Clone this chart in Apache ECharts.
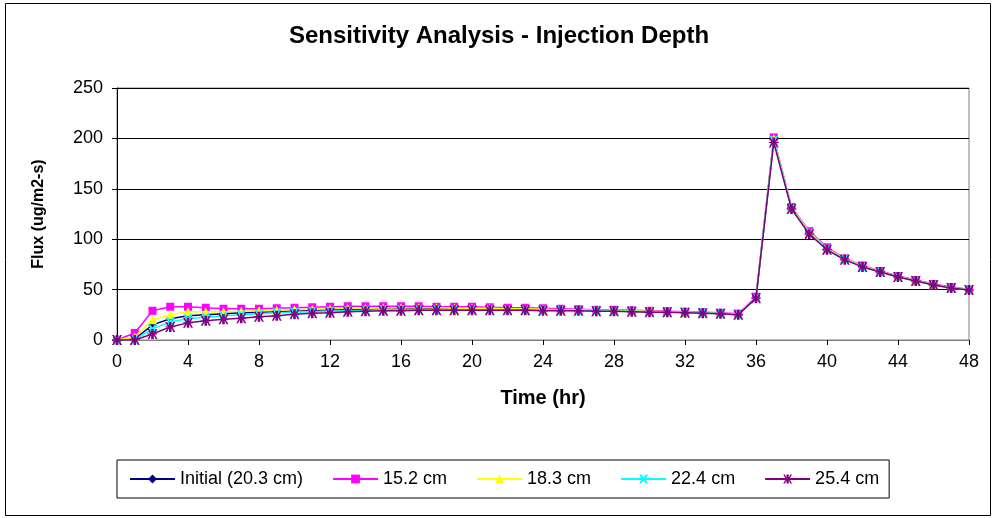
<!DOCTYPE html>
<html>
<head>
<meta charset="utf-8">
<script src="https://cdn.jsdelivr.net/npm/echarts@6/dist/echarts.min.js"></script>
<style>html,body{margin:0;padding:0;background:#fff}#c{width:998px;height:518px}</style>
</head>
<body>
<div id="c"></div>
<script>
const hours = [0,1,2,3,4,5,6,7,8,9,10,11,12,13,14,15,16,17,18,19,20,21,22,23,24,25,26,27,28,29,30,31,32,33,34,35,36,37,38,39,40,41,42,43,44,45,46,47,48];
const seriesNames = ['Initial (20.3 cm)','15.2 cm','18.3 cm','22.4 cm','25.4 cm'];
const initial = [0,1,15,21,24,25,26,27,27.5,28,29,29.5,30,30,30.5,30.5,31,31,31,31,31,30.5,30.5,30.5,30,30,29.5,29.5,29,29,28.5,28,27.5,27,26.5,25,42,199,131,106,90,80,73,68,63,59,55,52,50];
const d152 = [0,7,29,33,33,32,31,31,31,31.5,32,32.5,33,33.5,33.5,33.5,33.5,33.5,33,33,33,32.5,32,32,31.5,31,30.5,30,30,29.5,29,28.5,28,27.5,27,26,43,201,132,108,92,81,74,68.5,63.5,59.5,55.5,52.5,50];
const d183 = [0,3,20,25,28,28,28,28.5,29,29.5,30,30.5,31,31.5,31.5,32,32,32,32,31.5,31.5,31.5,31,31,30.5,30,30,29.5,29.5,29,28.5,28,27.5,27,26.5,25.5,42.5,200,131.5,107,91,80.5,73.5,68,63,59,55,52,50];
const d224 = [0,0.5,11,18,21,22.5,24,25,26,27,27.5,28,28.5,29,29.5,30,30,30,30,30,30,30,30,29.5,29.5,29.5,29,29,28.5,28.5,28,27.5,27.5,27,26,25,42,198,130.5,106,90,80,72.5,67.5,62.5,58.5,54.5,51.5,49.5];
const d254 = [0,0,6,13,17,19,20.5,21.5,23,24,25.5,26.5,27,28,28.5,29,29,29.5,29.5,29.5,29.5,29.5,29.5,29.5,29,29,29,28.5,28.5,28,27.5,27.5,27,26.5,26,25,41.5,196,130,105,89.5,79.5,72.5,67.5,62.5,58.5,54.5,51.5,49.5];
const xTicks = [0,4,8,12,16,20,24,28,32,36,40,44,48];
const yTicks = [0,50,100,150,200,250];

const allData = [initial, d152, d183, d224, d254];
const colors = ['#000080','#FF00FF','#FFFF00','#00FFFF','#800080'];
const symbols = ['diamond','rect','triangle','path://M0,0L1,1L2,0L3,0L1.8,1.5L3,3L2,3L1,2L0,3L-1,3L0.2,1.5L-1,0Z','path://M0,0L0.5,0L0.5,0.4L0.85,0L1.2,0L0.7,0.5L1.2,0.5L1.2,0.6L0.7,0.6L1.2,1.1L0.85,1.1L0.5,0.7L0.5,1.1L0,1.1L0,0.7L-0.35,1.1L-0.7,1.1L-0.2,0.6L-0.7,0.6L-0.7,0.5L-0.2,0.5L-0.7,0L-0.35,0L0,0.4Z'];
const symSizes = [9,8,9,9,10];
const FF = 'Liberation Sans, Arial';

const chart = echarts.init(document.getElementById('c'), null, {renderer:'canvas'});
const series = seriesNames.map((n,i)=>({
  name: n,
  type: 'line',
  data: hours.map((h,j)=>[h, allData[i][j]]),
  symbol: symbols[i],
  symbolSize: symSizes[i],
  showAllSymbol: true,
  lineStyle: {color: colors[i], width: 1.5},
  itemStyle: {color: colors[i], borderColor: colors[i], borderWidth: 0},
  z: 2 + i,
  animation: false
}));

chart.setOption({
  animation: false,
  backgroundColor: '#fff',
  title: {
    text: 'Sensitivity Analysis - Injection Depth',
    left: 'center', top: 19,
    textStyle: {fontFamily: FF, fontWeight: 'bold', fontSize: 24, color: '#000'}
  },
  graphic: [{
    type: 'rect', shape: {x: 5.5, y: 3.5, width: 985, height: 512},
    style: {fill: 'none', stroke: '#000', lineWidth: 1}, silent: true, z: -1
  }],
  grid: {left: 117, right: 29, top: 88, bottom: 178, show: true, borderColor: '#808080', borderWidth: 1, backgroundColor: '#fff'},
  legend: {
    data: seriesNames,
    left: 117, top: 460,
    padding: [10, 10, 10, 12],
    itemGap: 29,
    itemWidth: 45, itemHeight: 11,
    borderColor: '#000', borderWidth: 1,
    textStyle: {fontFamily: FF, fontSize: 18, color: '#000'}
  },
  xAxis: {
    type: 'value', min: 0, max: 48, interval: 4,
    name: 'Time (hr)', nameLocation: 'middle', nameGap: 48,
    nameTextStyle: {fontFamily: FF, fontWeight: 'bold', fontSize: 20, color: '#000'},
    axisLine: {show: true, onZero: false, lineStyle: {color: '#808080', width: 1}},
    axisTick: {show: true, length: 5, lineStyle: {color: '#000'}},
    axisLabel: {margin: 13, fontFamily: FF, fontSize: 18, color: '#000',
      formatter: v => xTicks.includes(v) ? String(v) : ''},
    splitLine: {show: false}
  },
  yAxis: {
    type: 'value', min: 0, max: 250, interval: 50,
    name: 'Flux (ug/m2-s)', nameLocation: 'middle', nameGap: 70,
    nameTextStyle: {fontFamily: FF, fontWeight: 'bold', fontSize: 16, color: '#000'},
    axisLine: {show: true, lineStyle: {color: '#000', width: 1}},
    axisTick: {show: true, length: 5, lineStyle: {color: '#000'}},
    axisLabel: {margin: 14, fontFamily: FF, fontSize: 18, color: '#000',
      formatter: v => yTicks.includes(v) ? String(v) : ''},
    splitLine: {show: true, lineStyle: {color: '#000', width: 1}}
  },
  series: series
});
</script>
</body>
</html>
